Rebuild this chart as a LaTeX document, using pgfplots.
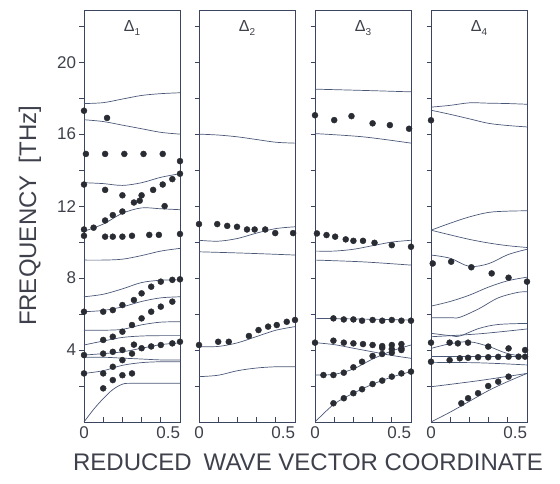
\documentclass[border=0pt]{standalone}
\usepackage{fontspec}
\setmainfont{Liberation Sans}
\usepackage{pgfplots}
\pgfplotsset{compat=1.18}

\definecolor{inkc}{HTML}{3E414B}
\definecolor{linec}{HTML}{4A5878}
\definecolor{framec}{HTML}{3C4560}
\definecolor{dotc}{HTML}{2A2C34}

\tikzset{dlabel/.style={text=inkc, font=\fontsize{16}{18}\selectfont}}

\pgfplotsset{
  panel/.style={
    scale only axis, width=96pt, height=412pt,
    anchor=south west,
    xmin=0, xmax=0.5, ymin=0, ymax=22.9,
    xtick={0,0.1,0.2,0.3,0.4,0.5},
    xticklabels={0,,,,,\llap{0.5}},
    ytick={2,4,6,8,10,12,14,16,18,20,22},
    yticklabels={},
    xtick pos=bottom, ytick pos=left,
    xtick align=inside, ytick align=outside,
    major tick length=4.5pt,
    tick style={draw=framec, line width=0.8pt},
    axis line style={draw=framec, line width=0.9pt},
    /pgf/number format/assume math mode=true,
    ticklabel style={font=\fontsize{17}{20}\selectfont, text=inkc},
    xticklabel style={yshift=-1pt},
    clip=false,
  },
  disp/.style={smooth, tension=0.55, line width=0.7pt, color=linec, no markers},
  obs/.style={only marks, mark=*, mark size=3pt, color=dotc},
}

\begin{document}
\begin{tikzpicture}
\useasboundingbox (-84pt,-62pt) rectangle (476pt,422pt);

% ---------------- Delta_1 ----------------
\begin{axis}[panel, at={(0pt,0pt)},
  yticklabels={,4,,8,,12,,16,,20,}]
\addplot[disp] coordinates {(0,17.7)(0.1,17.75)(0.2,17.95)(0.3,18.15)(0.4,18.25)(0.5,18.3)};
\addplot[disp] coordinates {(0,16.8)(0.1,16.7)(0.2,16.5)(0.3,16.3)(0.4,16.1)(0.5,16.0)};
\addplot[disp] coordinates {(0,13.3)(0.1,13.25)(0.2,13.15)(0.3,13.3)(0.4,13.6)(0.5,13.8)};
\addplot[disp] coordinates {(0,10.6)(0.1,11.0)(0.2,11.6)(0.3,11.9)(0.4,11.85)(0.5,11.8)};
\addplot[disp] coordinates {(0,9.0)(0.1,9.0)(0.2,9.05)(0.3,9.25)(0.4,9.5)(0.5,9.65)};
\addplot[disp] coordinates {(0,6.96)(0.1,7.1)(0.2,7.4)(0.3,7.75)(0.4,7.88)(0.5,7.9)};
\addplot[disp] coordinates {(0,6.13)(0.1,6.2)(0.2,6.4)(0.3,6.7)(0.4,6.9)(0.5,6.96)};
\addplot[disp] coordinates {(0,5.1)(0.1,5.1)(0.2,5.15)(0.3,5.4)(0.4,5.55)(0.5,5.57)};
\addplot[disp] coordinates {(0,4.28)(0.1,4.5)(0.2,4.7)(0.3,4.78)(0.4,4.8)(0.5,4.8)};
\addplot[disp] coordinates {(0,3.72)(0.1,3.8)(0.2,3.9)(0.3,4.1)(0.4,4.3)(0.5,4.4)};
\addplot[disp] coordinates {(0,3.6)(0.1,3.6)(0.2,3.55)(0.3,3.5)(0.4,3.45)(0.5,3.45)};
\addplot[disp] coordinates {(0,2.7)(0.1,2.85)(0.2,3.15)(0.3,3.3)(0.4,3.35)(0.5,3.35)};
\addplot[disp] coordinates {(0,0)(0.05,0.7)(0.1,1.3)(0.15,1.8)(0.2,2.1)(0.25,2.15)(0.5,2.15)};
\addplot[obs] coordinates {
  (0,17.3)(0.12,16.9)
  (0.01,14.9)(0.11,14.9)(0.21,14.9)(0.31,14.9)(0.41,14.9)(0.5,14.5)
  (0,13.2)(0.11,12.9)(0.2,12.6)(0.26,12.2)(0.29,12.3)(0.3,12.6)(0.36,12.9)(0.41,13.2)(0.46,13.5)(0.5,13.8)
  (0,10.7)(0.05,10.8)(0.11,11.2)(0.15,11.5)(0.2,11.7)(0.42,12.0)
  (0,10.35)(0.11,10.3)(0.15,10.3)(0.2,10.3)(0.25,10.35)(0.34,10.4)(0.39,10.4)(0.5,10.45)
  (0,6.13)(0.1,6.13)(0.15,6.22)(0.2,6.5)(0.26,6.78)(0.3,7.15)(0.35,7.52)(0.4,7.8)(0.46,7.9)(0.5,7.93)
  (0.1,4.56)(0.15,4.74)(0.2,5.02)(0.25,5.39)(0.3,5.76)(0.35,6.13)(0.4,6.41)(0.46,6.69)
  (0,3.72)(0.1,3.8)(0.15,3.9)(0.2,4.0)(0.25,3.8)(0.26,4.3)(0.3,4.1)(0.35,4.2)(0.4,4.28)(0.46,4.37)(0.5,4.46)
  (0,2.7)(0.1,2.7)(0.15,3.07)(0.2,3.44)
  (0.1,1.87)(0.15,2.33)(0.2,2.6)(0.25,2.7)};
\node[dlabel] at (axis cs:0.25,21.9) {Δ\raisebox{-0.5ex}{\fontsize{10}{11}\selectfont 1}};
\end{axis}

% ---------------- Delta_2 ----------------
\begin{axis}[panel, at={(115pt,0pt)}]
\addplot[disp] coordinates {(0,16.0)(0.1,15.95)(0.2,15.85)(0.3,15.7)(0.4,15.55)(0.5,15.5)};
\addplot[disp] coordinates {(0,10.1)(0.1,10.05)(0.2,10.2)(0.3,10.5)(0.4,10.75)(0.5,10.85)};
\addplot[disp] coordinates {(0,9.46)(0.25,9.38)(0.5,9.28)};
\addplot[disp] coordinates {(0,4.19)(0.1,4.2)(0.2,4.4)(0.3,4.75)(0.4,5.1)(0.5,5.3)};
\addplot[disp] coordinates {(0,2.52)(0.1,2.6)(0.2,2.85)(0.3,3.0)(0.4,3.07)(0.5,3.07)};
\addplot[obs] coordinates {
  (0,11.0)(0.095,11.0)(0.147,10.9)(0.198,10.85)(0.25,10.7)(0.29,10.7)(0.345,10.7)(0.397,10.5)(0.49,10.5)
  (0,4.28)(0.10,4.46)(0.155,4.46)(0.26,4.78)(0.31,5.11)(0.36,5.3)(0.405,5.39)(0.457,5.57)(0.5,5.67)};
\node[dlabel] at (axis cs:0.25,21.9) {Δ\raisebox{-0.5ex}{\fontsize{10}{11}\selectfont 2}};
\end{axis}

% ---------------- Delta_3 ----------------
\begin{axis}[panel, at={(231pt,0pt)}]
\addplot[disp] coordinates {(0,18.5)(0.25,18.43)(0.5,18.35)};
\addplot[disp] coordinates {(0,16.03)(0.25,15.85)(0.5,15.5)};
\addplot[disp] coordinates {(0,9.5)(0.1,9.5)(0.2,9.6)(0.3,9.8)(0.4,10.0)(0.5,10.1)};
\addplot[disp] coordinates {(0,9.0)(0.25,8.9)(0.5,8.72)};
\addplot[disp] coordinates {(0,5.76)(0.25,5.72)(0.5,5.67)};
\addplot[disp] coordinates {(0,4.41)(0.1,4.3)(0.2,4.1)(0.3,3.9)(0.4,3.7)(0.5,3.54)};
\addplot[disp] coordinates {(0,2.61)(0.1,2.65)(0.2,2.95)(0.3,3.5)(0.4,3.95)(0.5,4.28)};
\addplot[disp] coordinates {(0,0)(0.1,1.0)(0.2,1.6)(0.3,2.1)(0.4,2.5)(0.5,2.8)};
\addplot[obs] coordinates {
  (0,17.05)(0.1,16.78)(0.19,17.0)(0.30,16.6)(0.39,16.5)(0.49,16.3)
  (0.01,10.48)(0.06,10.39)(0.105,10.3)(0.16,10.15)(0.2,10.07)(0.25,10.07)(0.31,9.96)(0.40,9.83)(0.5,9.74)
  (0.096,5.76)(0.15,5.7)(0.2,5.7)(0.245,5.63)(0.3,5.67)(0.35,5.63)(0.4,5.67)(0.45,5.63)(0.5,5.63)
  (0,4.41)(0.096,4.52)(0.15,4.41)(0.2,4.37)(0.25,4.33)(0.3,4.28)(0.35,4.22)(0.4,4.28)(0.45,4.33)
  (0.35,4.12)(0.4,4.05)(0.45,4.0)
  (0.044,2.61)(0.096,2.61)(0.15,2.74)(0.2,3.04)(0.245,3.35)(0.3,3.67)(0.35,3.78)(0.4,3.85)(0.45,4.09)
  (0.096,1.04)(0.15,1.32)(0.2,1.6)(0.245,1.82)(0.3,2.11)(0.35,2.3)(0.4,2.52)(0.45,2.7)(0.5,2.8)};
\node[dlabel] at (axis cs:0.25,21.9) {Δ\raisebox{-0.5ex}{\fontsize{10}{11}\selectfont 3}};
\end{axis}

% ---------------- Delta_4 ----------------
\begin{axis}[panel, at={(347pt,0pt)}]
\addplot[disp] coordinates {(0,17.5)(0.1,17.6)(0.2,17.74)(0.3,17.72)(0.4,17.7)(0.5,17.66)};
\addplot[disp] coordinates {(0,17.33)(0.1,17.1)(0.2,16.85)(0.3,16.6)(0.4,16.48)(0.5,16.4)};
\addplot[disp] coordinates {(0,10.66)(0.1,11.05)(0.2,11.4)(0.3,11.65)(0.4,11.72)(0.5,11.74)};
\addplot[disp] coordinates {(0,10.66)(0.1,10.4)(0.2,10.15)(0.3,9.95)(0.4,9.8)(0.5,9.7)};
\addplot[disp] coordinates {(0,9.28)(0.1,9.1)(0.2,8.65)(0.3,8.8)(0.4,9.3)(0.5,9.6)};
\addplot[disp] coordinates {(0,6.44)(0.1,6.7)(0.2,7.05)(0.3,7.5)(0.4,7.85)(0.5,8.05)};
\addplot[disp] coordinates {(0,5.8)(0.1,5.8)(0.15,5.82)(0.25,6.3)(0.35,6.9)(0.45,7.2)(0.5,7.24)};
\addplot[disp] coordinates {(0,4.93)(0.1,4.8)(0.15,4.78)(0.25,5.2)(0.35,5.42)(0.5,5.48)};
\addplot[disp] coordinates {(0,4.74)(0.25,4.9)(0.5,5.17)};
\addplot[disp] coordinates {(0,4.09)(0.1,4.35)(0.2,4.46)(0.3,4.2)(0.4,3.8)(0.5,3.63)};
\addplot[disp] coordinates {(0,3.63)(0.25,3.63)(0.5,3.63)};
\addplot[disp] coordinates {(0,3.3)(0.2,3.3)(0.35,3.25)(0.5,3.17)};
\addplot[disp] coordinates {(0,1.96)(0.25,2.3)(0.5,2.7)};
\addplot[disp] coordinates {(0,0)(0.1,0.55)(0.2,1.15)(0.3,1.75)(0.4,2.25)(0.5,2.7)};
\addplot[obs] coordinates {
  (0,16.77)
  (0.009,8.81)(0.105,8.91)(0.21,8.6)(0.316,8.26)(0.404,8.02)(0.5,7.8)
  (0,4.41)(0.097,4.41)(0.14,4.37)(0.193,4.41)(0.298,4.19)(0.404,4.09)(0.49,4.0)
  (0,3.35)(0.097,3.44)(0.15,3.54)(0.193,3.57)(0.245,3.6)(0.298,3.6)(0.35,3.62)(0.404,3.63)(0.456,3.63)(0.49,3.63)
  (0.158,1.04)(0.193,1.32)(0.245,1.6)(0.298,2.0)(0.35,2.24)(0.404,2.52)};
\node[dlabel] at (axis cs:0.25,21.9) {Δ\raisebox{-0.5ex}{\fontsize{10}{11}\selectfont 4}};
\end{axis}

% axis titles
\node[text=inkc, font=\fontsize{24}{28}\selectfont, rotate=90] at (-54pt,206pt) {FREQUENCY\enspace[THz]};
\node[text=inkc, font=\fontsize{24}{28}\selectfont] at (224pt,-40pt) {REDUCED\enspace WAVE VECTOR COORDINATE};
\end{tikzpicture}
\end{document}
